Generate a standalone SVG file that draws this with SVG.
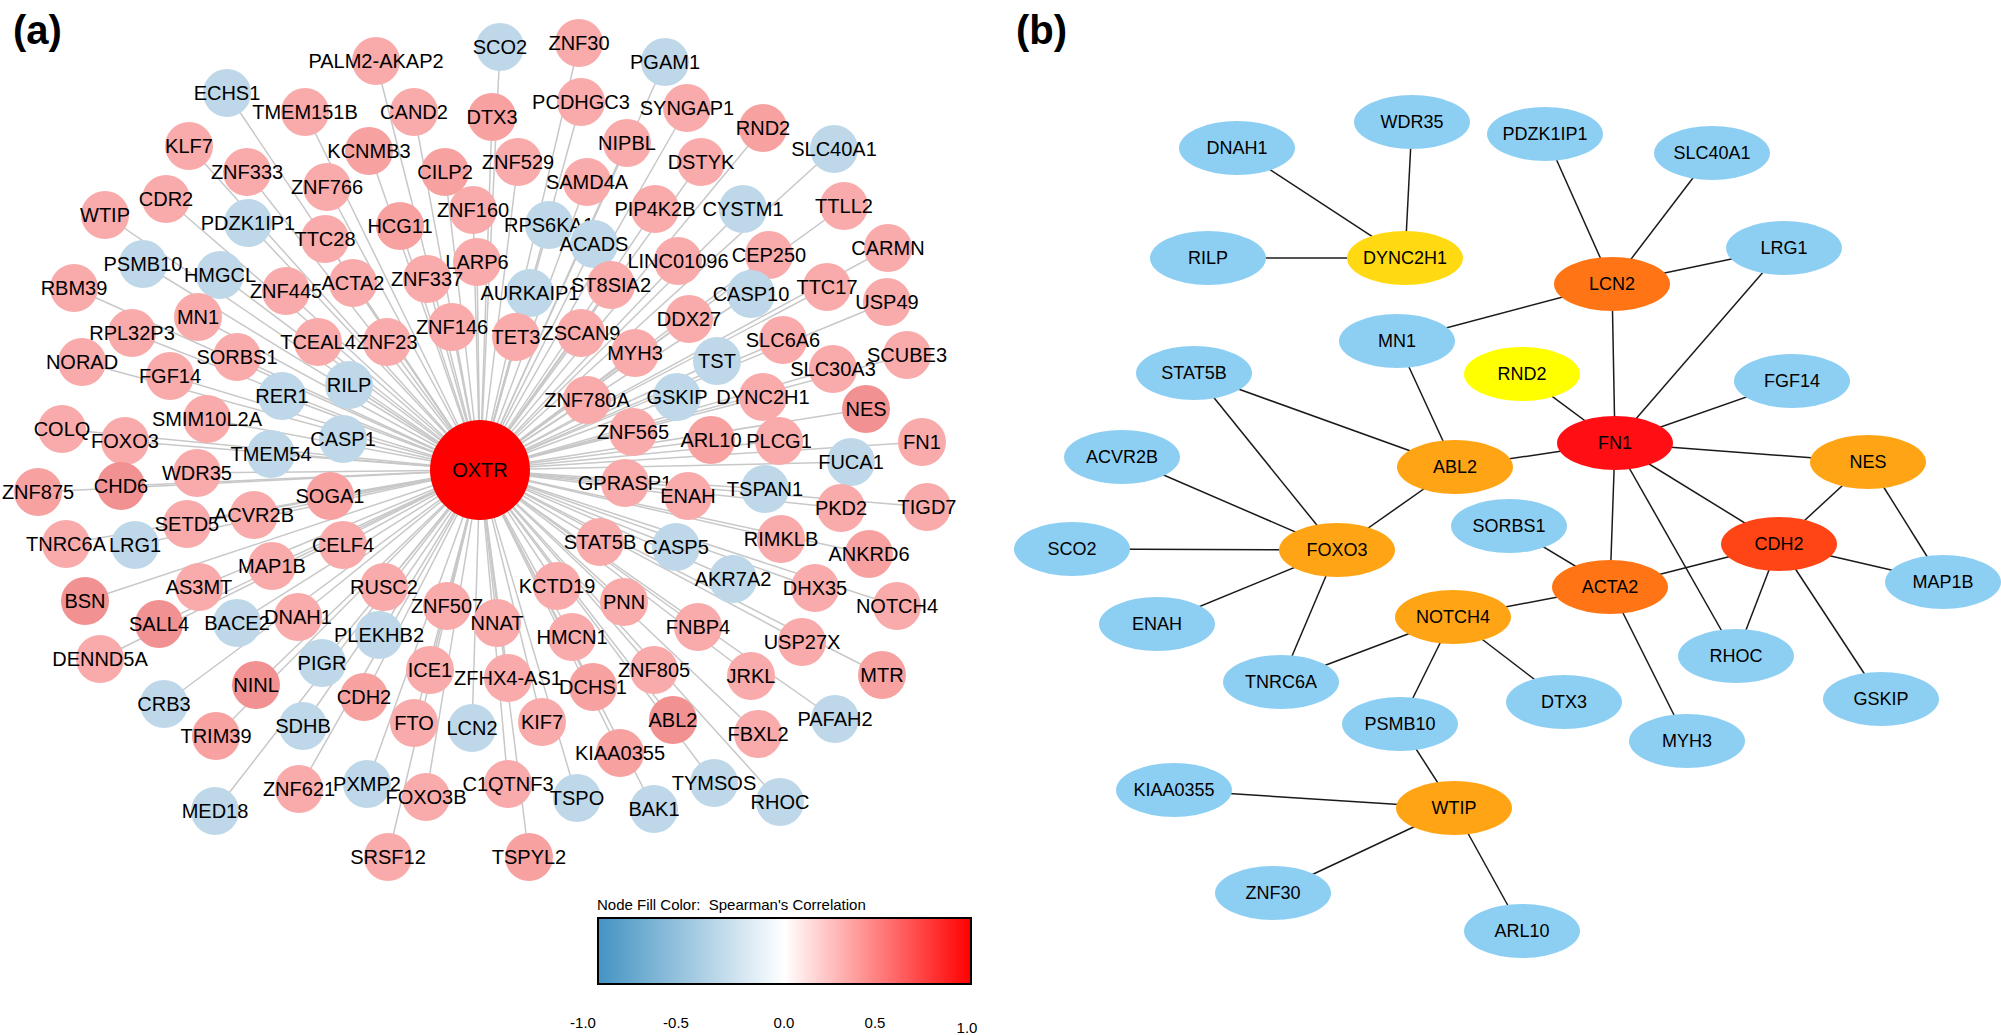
<svg xmlns="http://www.w3.org/2000/svg" width="2001" height="1035" viewBox="0 0 2001 1035">
<style>
text{font-family:"Liberation Sans",Arial,sans-serif;fill:#000}
.na text{font-size:20px;text-anchor:middle;dominant-baseline:central}
.nb text{font-size:18px;text-anchor:middle;dominant-baseline:central}
.ea line{stroke:#c8c8c8;stroke-width:1.5}
.eb line{stroke:#1a1a1a;stroke-width:1.5}
.p{fill:#f9aaaa}.pm{fill:#f7a1a1}.pd{fill:#f29191}.bl{fill:#bed8e9}
.ox{fill:#ff0000}
.sb{fill:#8dcff3}.yg{fill:#ffda12}.yy{fill:#ffff00}.o1{fill:#ff7515}.o2{fill:#ffa515}.rd{fill:#ff0e14}.o3{fill:#ff4515}
.panel{font-size:40px;font-weight:bold}
.leg{font-size:15px}
.tick{font-size:15px;text-anchor:middle}
</style>
<defs>
<linearGradient id="grad" x1="0" y1="0" x2="1" y2="0">
<stop offset="0" stop-color="#4393c3"/>
<stop offset="0.5" stop-color="#ffffff"/>
<stop offset="1" stop-color="#ff0000"/>
</linearGradient>
</defs>
<rect width="2001" height="1035" fill="#ffffff"/>
<text class="panel" x="13" y="44">(a)</text>
<text class="panel" x="1016" y="44">(b)</text>

<g id="edges-a" class="ea">
<line x1="480" y1="470" x2="376" y2="61"/><line x1="480" y1="470" x2="500" y2="47"/><line x1="480" y1="470" x2="579" y2="43"/><line x1="480" y1="470" x2="665" y2="62"/>
<line x1="480" y1="470" x2="227" y2="93"/><line x1="480" y1="470" x2="305" y2="112"/><line x1="480" y1="470" x2="414" y2="112"/><line x1="480" y1="470" x2="492" y2="117"/>
<line x1="480" y1="470" x2="581" y2="102"/><line x1="480" y1="470" x2="687" y2="108"/><line x1="480" y1="470" x2="763" y2="128"/><line x1="480" y1="470" x2="627" y2="143"/>
<line x1="480" y1="470" x2="834" y2="149"/><line x1="480" y1="470" x2="189" y2="146"/><line x1="480" y1="470" x2="369" y2="151"/><line x1="480" y1="470" x2="247" y2="172"/>
<line x1="480" y1="470" x2="445" y2="172"/><line x1="480" y1="470" x2="518" y2="162"/><line x1="480" y1="470" x2="701" y2="162"/><line x1="480" y1="470" x2="327" y2="187"/>
<line x1="480" y1="470" x2="587" y2="182"/><line x1="480" y1="470" x2="166" y2="199"/><line x1="480" y1="470" x2="105" y2="215"/><line x1="480" y1="470" x2="248" y2="223"/>
<line x1="480" y1="470" x2="400" y2="226"/><line x1="480" y1="470" x2="473" y2="210"/><line x1="480" y1="470" x2="549" y2="225"/><line x1="480" y1="470" x2="655" y2="209"/>
<line x1="480" y1="470" x2="743" y2="209"/><line x1="480" y1="470" x2="844" y2="206"/><line x1="480" y1="470" x2="325" y2="239"/><line x1="480" y1="470" x2="594" y2="244"/>
<line x1="480" y1="470" x2="678" y2="261"/><line x1="480" y1="470" x2="769" y2="255"/><line x1="480" y1="470" x2="888" y2="248"/><line x1="480" y1="470" x2="143" y2="264"/>
<line x1="480" y1="470" x2="220" y2="275"/><line x1="480" y1="470" x2="477" y2="262"/><line x1="480" y1="470" x2="74" y2="288"/><line x1="480" y1="470" x2="286" y2="291"/>
<line x1="480" y1="470" x2="353" y2="283"/><line x1="480" y1="470" x2="427" y2="279"/><line x1="480" y1="470" x2="530" y2="293"/><line x1="480" y1="470" x2="611" y2="285"/>
<line x1="480" y1="470" x2="827" y2="287"/><line x1="480" y1="470" x2="751" y2="294"/><line x1="480" y1="470" x2="887" y2="302"/><line x1="480" y1="470" x2="198" y2="317"/>
<line x1="480" y1="470" x2="452" y2="327"/><line x1="480" y1="470" x2="689" y2="319"/><line x1="480" y1="470" x2="132" y2="333"/><line x1="480" y1="470" x2="318" y2="342"/>
<line x1="480" y1="470" x2="387" y2="342"/><line x1="480" y1="470" x2="516" y2="337"/><line x1="480" y1="470" x2="581" y2="333"/><line x1="480" y1="470" x2="635" y2="353"/>
<line x1="480" y1="470" x2="783" y2="340"/><line x1="480" y1="470" x2="717" y2="361"/><line x1="480" y1="470" x2="907" y2="355"/><line x1="480" y1="470" x2="833" y2="369"/>
<line x1="480" y1="470" x2="82" y2="362"/><line x1="480" y1="470" x2="237" y2="357"/><line x1="480" y1="470" x2="170" y2="376"/><line x1="480" y1="470" x2="282" y2="396"/>
<line x1="480" y1="470" x2="349" y2="385"/><line x1="480" y1="470" x2="677" y2="397"/><line x1="480" y1="470" x2="763" y2="397"/><line x1="480" y1="470" x2="587" y2="400"/>
<line x1="480" y1="470" x2="866" y2="409"/><line x1="480" y1="470" x2="207" y2="419"/><line x1="480" y1="470" x2="62" y2="429"/><line x1="480" y1="470" x2="125" y2="441"/>
<line x1="480" y1="470" x2="343" y2="439"/><line x1="480" y1="470" x2="633" y2="432"/><line x1="480" y1="470" x2="711" y2="440"/><line x1="480" y1="470" x2="779" y2="441"/>
<line x1="480" y1="470" x2="922" y2="442"/><line x1="480" y1="470" x2="271" y2="454"/><line x1="480" y1="470" x2="851" y2="462"/><line x1="480" y1="470" x2="197" y2="473"/>
<line x1="480" y1="470" x2="38" y2="492"/><line x1="480" y1="470" x2="121" y2="486"/><line x1="480" y1="470" x2="330" y2="496"/><line x1="480" y1="470" x2="625" y2="483"/>
<line x1="480" y1="470" x2="688" y2="496"/><line x1="480" y1="470" x2="765" y2="489"/><line x1="480" y1="470" x2="841" y2="508"/><line x1="480" y1="470" x2="927" y2="507"/>
<line x1="480" y1="470" x2="187" y2="524"/><line x1="480" y1="470" x2="254" y2="515"/><line x1="480" y1="470" x2="66" y2="544"/><line x1="480" y1="470" x2="135" y2="545"/>
<line x1="480" y1="470" x2="343" y2="545"/><line x1="480" y1="470" x2="600" y2="542"/><line x1="480" y1="470" x2="676" y2="547"/><line x1="480" y1="470" x2="781" y2="539"/>
<line x1="480" y1="470" x2="869" y2="554"/><line x1="480" y1="470" x2="272" y2="566"/><line x1="480" y1="470" x2="199" y2="587"/><line x1="480" y1="470" x2="384" y2="587"/>
<line x1="480" y1="470" x2="733" y2="579"/><line x1="480" y1="470" x2="557" y2="586"/><line x1="480" y1="470" x2="815" y2="588"/><line x1="480" y1="470" x2="85" y2="601"/>
<line x1="480" y1="470" x2="447" y2="606"/><line x1="480" y1="470" x2="624" y2="602"/><line x1="480" y1="470" x2="897" y2="606"/><line x1="480" y1="470" x2="298" y2="617"/>
<line x1="480" y1="470" x2="237" y2="623"/><line x1="480" y1="470" x2="159" y2="624"/><line x1="480" y1="470" x2="497" y2="623"/><line x1="480" y1="470" x2="698" y2="627"/>
<line x1="480" y1="470" x2="379" y2="635"/><line x1="480" y1="470" x2="572" y2="637"/><line x1="480" y1="470" x2="802" y2="642"/><line x1="480" y1="470" x2="100" y2="659"/>
<line x1="480" y1="470" x2="322" y2="663"/><line x1="480" y1="470" x2="430" y2="670"/><line x1="480" y1="470" x2="508" y2="678"/><line x1="480" y1="470" x2="654" y2="670"/>
<line x1="480" y1="470" x2="751" y2="676"/><line x1="480" y1="470" x2="882" y2="675"/><line x1="480" y1="470" x2="593" y2="687"/><line x1="480" y1="470" x2="256" y2="685"/>
<line x1="480" y1="470" x2="364" y2="697"/><line x1="480" y1="470" x2="164" y2="704"/><line x1="480" y1="470" x2="542" y2="722"/><line x1="480" y1="470" x2="673" y2="720"/>
<line x1="480" y1="470" x2="835" y2="719"/><line x1="480" y1="470" x2="414" y2="723"/><line x1="480" y1="470" x2="472" y2="728"/><line x1="480" y1="470" x2="303" y2="726"/>
<line x1="480" y1="470" x2="216" y2="736"/><line x1="480" y1="470" x2="758" y2="734"/><line x1="480" y1="470" x2="620" y2="753"/><line x1="480" y1="470" x2="508" y2="784"/>
<line x1="480" y1="470" x2="714" y2="783"/><line x1="480" y1="470" x2="367" y2="784"/><line x1="480" y1="470" x2="299" y2="789"/><line x1="480" y1="470" x2="426" y2="797"/>
<line x1="480" y1="470" x2="577" y2="798"/><line x1="480" y1="470" x2="780" y2="802"/><line x1="480" y1="470" x2="654" y2="809"/><line x1="480" y1="470" x2="215" y2="811"/>
<line x1="480" y1="470" x2="388" y2="857"/><line x1="480" y1="470" x2="529" y2="857"/>
</g>

<g id="nodes-a" class="na">
<g id="a-PALM2-AKAP2"><circle class="p" cx="376" cy="61" r="24"/><text x="376" y="61">PALM2-AKAP2</text></g>
<g id="a-SCO2"><circle class="bl" cx="500" cy="47" r="24"/><text x="500" y="47">SCO2</text></g>
<g id="a-ZNF30"><circle class="p" cx="579" cy="43" r="24"/><text x="579" y="43">ZNF30</text></g>
<g id="a-PGAM1"><circle class="bl" cx="665" cy="62" r="24"/><text x="665" y="62">PGAM1</text></g>
<g id="a-ECHS1"><circle class="bl" cx="227" cy="93" r="24"/><text x="227" y="93">ECHS1</text></g>
<g id="a-TMEM151B"><circle class="p" cx="305" cy="112" r="24"/><text x="305" y="112">TMEM151B</text></g>
<g id="a-CAND2"><circle class="p" cx="414" cy="112" r="24"/><text x="414" y="112">CAND2</text></g>
<g id="a-DTX3"><circle class="pm" cx="492" cy="117" r="24"/><text x="492" y="117">DTX3</text></g>
<g id="a-PCDHGC3"><circle class="p" cx="581" cy="102" r="24"/><text x="581" y="102">PCDHGC3</text></g>
<g id="a-SYNGAP1"><circle class="p" cx="687" cy="108" r="24"/><text x="687" y="108">SYNGAP1</text></g>
<g id="a-RND2"><circle class="pm" cx="763" cy="128" r="24"/><text x="763" y="128">RND2</text></g>
<g id="a-NIPBL"><circle class="p" cx="627" cy="143" r="24"/><text x="627" y="143">NIPBL</text></g>
<g id="a-SLC40A1"><circle class="bl" cx="834" cy="149" r="24"/><text x="834" y="149">SLC40A1</text></g>
<g id="a-KLF7"><circle class="p" cx="189" cy="146" r="24"/><text x="189" y="146">KLF7</text></g>
<g id="a-KCNMB3"><circle class="pm" cx="369" cy="151" r="24"/><text x="369" y="151">KCNMB3</text></g>
<g id="a-ZNF333"><circle class="p" cx="247" cy="172" r="24"/><text x="247" y="172">ZNF333</text></g>
<g id="a-CILP2"><circle class="pm" cx="445" cy="172" r="24"/><text x="445" y="172">CILP2</text></g>
<g id="a-ZNF529"><circle class="p" cx="518" cy="162" r="24"/><text x="518" y="162">ZNF529</text></g>
<g id="a-DSTYK"><circle class="p" cx="701" cy="162" r="24"/><text x="701" y="162">DSTYK</text></g>
<g id="a-ZNF766"><circle class="p" cx="327" cy="187" r="24"/><text x="327" y="187">ZNF766</text></g>
<g id="a-SAMD4A"><circle class="p" cx="587" cy="182" r="24"/><text x="587" y="182">SAMD4A</text></g>
<g id="a-CDR2"><circle class="p" cx="166" cy="199" r="24"/><text x="166" y="199">CDR2</text></g>
<g id="a-WTIP"><circle class="p" cx="105" cy="215" r="24"/><text x="105" y="215">WTIP</text></g>
<g id="a-PDZK1IP1"><circle class="bl" cx="248" cy="223" r="24"/><text x="248" y="223">PDZK1IP1</text></g>
<g id="a-HCG11"><circle class="pm" cx="400" cy="226" r="24"/><text x="400" y="226">HCG11</text></g>
<g id="a-RPS6KA1"><circle class="bl" cx="549" cy="225" r="24"/><text x="549" y="225">RPS6KA1</text></g>
<g id="a-ZNF160"><circle class="p" cx="473" cy="210" r="24"/><text x="473" y="210">ZNF160</text></g>
<g id="a-PIP4K2B"><circle class="p" cx="655" cy="209" r="24"/><text x="655" y="209">PIP4K2B</text></g>
<g id="a-CYSTM1"><circle class="bl" cx="743" cy="209" r="24"/><text x="743" y="209">CYSTM1</text></g>
<g id="a-TTLL2"><circle class="p" cx="844" cy="206" r="24"/><text x="844" y="206">TTLL2</text></g>
<g id="a-TTC28"><circle class="p" cx="325" cy="239" r="24"/><text x="325" y="239">TTC28</text></g>
<g id="a-ACADS"><circle class="bl" cx="594" cy="244" r="24"/><text x="594" y="244">ACADS</text></g>
<g id="a-LINC01096"><circle class="p" cx="678" cy="261" r="24"/><text x="678" y="261">LINC01096</text></g>
<g id="a-CEP250"><circle class="p" cx="769" cy="255" r="24"/><text x="769" y="255">CEP250</text></g>
<g id="a-CARMN"><circle class="p" cx="888" cy="248" r="24"/><text x="888" y="248">CARMN</text></g>
<g id="a-PSMB10"><circle class="bl" cx="143" cy="264" r="24"/><text x="143" y="264">PSMB10</text></g>
<g id="a-HMGCL"><circle class="bl" cx="220" cy="275" r="24"/><text x="220" y="275">HMGCL</text></g>
<g id="a-LARP6"><circle class="p" cx="477" cy="262" r="24"/><text x="477" y="262">LARP6</text></g>
<g id="a-RBM39"><circle class="p" cx="74" cy="288" r="24"/><text x="74" y="288">RBM39</text></g>
<g id="a-ZNF445"><circle class="p" cx="286" cy="291" r="24"/><text x="286" y="291">ZNF445</text></g>
<g id="a-ACTA2"><circle class="p" cx="353" cy="283" r="24"/><text x="353" y="283">ACTA2</text></g>
<g id="a-ZNF337"><circle class="p" cx="427" cy="279" r="24"/><text x="427" y="279">ZNF337</text></g>
<g id="a-AURKAIP1"><circle class="bl" cx="530" cy="293" r="24"/><text x="530" y="293">AURKAIP1</text></g>
<g id="a-ST8SIA2"><circle class="p" cx="611" cy="285" r="24"/><text x="611" y="285">ST8SIA2</text></g>
<g id="a-TTC17"><circle class="p" cx="827" cy="287" r="24"/><text x="827" y="287">TTC17</text></g>
<g id="a-CASP10"><circle class="bl" cx="751" cy="294" r="24"/><text x="751" y="294">CASP10</text></g>
<g id="a-USP49"><circle class="p" cx="887" cy="302" r="24"/><text x="887" y="302">USP49</text></g>
<g id="a-MN1"><circle class="p" cx="198" cy="317" r="24"/><text x="198" y="317">MN1</text></g>
<g id="a-ZNF146"><circle class="p" cx="452" cy="327" r="24"/><text x="452" y="327">ZNF146</text></g>
<g id="a-DDX27"><circle class="p" cx="689" cy="319" r="24"/><text x="689" y="319">DDX27</text></g>
<g id="a-RPL32P3"><circle class="p" cx="132" cy="333" r="24"/><text x="132" y="333">RPL32P3</text></g>
<g id="a-TCEAL4"><circle class="p" cx="318" cy="342" r="24"/><text x="318" y="342">TCEAL4</text></g>
<g id="a-ZNF23"><circle class="p" cx="387" cy="342" r="24"/><text x="387" y="342">ZNF23</text></g>
<g id="a-TET3"><circle class="p" cx="516" cy="337" r="24"/><text x="516" y="337">TET3</text></g>
<g id="a-ZSCAN9"><circle class="p" cx="581" cy="333" r="24"/><text x="581" y="333">ZSCAN9</text></g>
<g id="a-MYH3"><circle class="p" cx="635" cy="353" r="24"/><text x="635" y="353">MYH3</text></g>
<g id="a-SLC6A6"><circle class="p" cx="783" cy="340" r="24"/><text x="783" y="340">SLC6A6</text></g>
<g id="a-TST"><circle class="bl" cx="717" cy="361" r="24"/><text x="717" y="361">TST</text></g>
<g id="a-SCUBE3"><circle class="p" cx="907" cy="355" r="24"/><text x="907" y="355">SCUBE3</text></g>
<g id="a-SLC30A3"><circle class="p" cx="833" cy="369" r="24"/><text x="833" y="369">SLC30A3</text></g>
<g id="a-NORAD"><circle class="p" cx="82" cy="362" r="24"/><text x="82" y="362">NORAD</text></g>
<g id="a-SORBS1"><circle class="p" cx="237" cy="357" r="24"/><text x="237" y="357">SORBS1</text></g>
<g id="a-FGF14"><circle class="p" cx="170" cy="376" r="24"/><text x="170" y="376">FGF14</text></g>
<g id="a-RER1"><circle class="bl" cx="282" cy="396" r="24"/><text x="282" y="396">RER1</text></g>
<g id="a-RILP"><circle class="bl" cx="349" cy="385" r="24"/><text x="349" y="385">RILP</text></g>
<g id="a-GSKIP"><circle class="bl" cx="677" cy="397" r="24"/><text x="677" y="397">GSKIP</text></g>
<g id="a-DYNC2H1"><circle class="p" cx="763" cy="397" r="24"/><text x="763" y="397">DYNC2H1</text></g>
<g id="a-ZNF780A"><circle class="p" cx="587" cy="400" r="24"/><text x="587" y="400">ZNF780A</text></g>
<g id="a-NES"><circle class="pd" cx="866" cy="409" r="24"/><text x="866" y="409">NES</text></g>
<g id="a-SMIM10L2A"><circle class="p" cx="207" cy="419" r="24"/><text x="207" y="419">SMIM10L2A</text></g>
<g id="a-COLQ"><circle class="p" cx="62" cy="429" r="24"/><text x="62" y="429">COLQ</text></g>
<g id="a-FOXO3"><circle class="p" cx="125" cy="441" r="24"/><text x="125" y="441">FOXO3</text></g>
<g id="a-CASP1"><circle class="bl" cx="343" cy="439" r="24"/><text x="343" y="439">CASP1</text></g>
<g id="a-ZNF565"><circle class="p" cx="633" cy="432" r="24"/><text x="633" y="432">ZNF565</text></g>
<g id="a-ARL10"><circle class="pm" cx="711" cy="440" r="24"/><text x="711" y="440">ARL10</text></g>
<g id="a-PLCG1"><circle class="p" cx="779" cy="441" r="24"/><text x="779" y="441">PLCG1</text></g>
<g id="a-FN1"><circle class="p" cx="922" cy="442" r="24"/><text x="922" y="442">FN1</text></g>
<g id="a-TMEM54"><circle class="bl" cx="271" cy="454" r="24"/><text x="271" y="454">TMEM54</text></g>
<g id="a-FUCA1"><circle class="bl" cx="851" cy="462" r="24"/><text x="851" y="462">FUCA1</text></g>
<g id="a-WDR35"><circle class="p" cx="197" cy="473" r="24"/><text x="197" y="473">WDR35</text></g>
<g id="a-ZNF875"><circle class="pm" cx="38" cy="492" r="24"/><text x="38" y="492">ZNF875</text></g>
<g id="a-CHD6"><circle class="pd" cx="121" cy="486" r="24"/><text x="121" y="486">CHD6</text></g>
<g id="a-SOGA1"><circle class="pm" cx="330" cy="496" r="24"/><text x="330" y="496">SOGA1</text></g>
<g id="a-GPRASP1"><circle class="p" cx="625" cy="483" r="24"/><text x="625" y="483">GPRASP1</text></g>
<g id="a-ENAH"><circle class="p" cx="688" cy="496" r="24"/><text x="688" y="496">ENAH</text></g>
<g id="a-TSPAN1"><circle class="bl" cx="765" cy="489" r="24"/><text x="765" y="489">TSPAN1</text></g>
<g id="a-PKD2"><circle class="p" cx="841" cy="508" r="24"/><text x="841" y="508">PKD2</text></g>
<g id="a-TIGD7"><circle class="p" cx="927" cy="507" r="24"/><text x="927" y="507">TIGD7</text></g>
<g id="a-SETD5"><circle class="p" cx="187" cy="524" r="24"/><text x="187" y="524">SETD5</text></g>
<g id="a-ACVR2B"><circle class="p" cx="254" cy="515" r="24"/><text x="254" y="515">ACVR2B</text></g>
<g id="a-TNRC6A"><circle class="p" cx="66" cy="544" r="24"/><text x="66" y="544">TNRC6A</text></g>
<g id="a-LRG1"><circle class="bl" cx="135" cy="545" r="24"/><text x="135" y="545">LRG1</text></g>
<g id="a-CELF4"><circle class="p" cx="343" cy="545" r="24"/><text x="343" y="545">CELF4</text></g>
<g id="a-STAT5B"><circle class="p" cx="600" cy="542" r="24"/><text x="600" y="542">STAT5B</text></g>
<g id="a-CASP5"><circle class="bl" cx="676" cy="547" r="24"/><text x="676" y="547">CASP5</text></g>
<g id="a-RIMKLB"><circle class="p" cx="781" cy="539" r="24"/><text x="781" y="539">RIMKLB</text></g>
<g id="a-ANKRD6"><circle class="pm" cx="869" cy="554" r="24"/><text x="869" y="554">ANKRD6</text></g>
<g id="a-MAP1B"><circle class="p" cx="272" cy="566" r="24"/><text x="272" y="566">MAP1B</text></g>
<g id="a-AS3MT"><circle class="p" cx="199" cy="587" r="24"/><text x="199" y="587">AS3MT</text></g>
<g id="a-RUSC2"><circle class="p" cx="384" cy="587" r="24"/><text x="384" y="587">RUSC2</text></g>
<g id="a-AKR7A2"><circle class="bl" cx="733" cy="579" r="24"/><text x="733" y="579">AKR7A2</text></g>
<g id="a-KCTD19"><circle class="p" cx="557" cy="586" r="24"/><text x="557" y="586">KCTD19</text></g>
<g id="a-DHX35"><circle class="p" cx="815" cy="588" r="24"/><text x="815" y="588">DHX35</text></g>
<g id="a-BSN"><circle class="pd" cx="85" cy="601" r="24"/><text x="85" y="601">BSN</text></g>
<g id="a-ZNF507"><circle class="p" cx="447" cy="606" r="24"/><text x="447" y="606">ZNF507</text></g>
<g id="a-PNN"><circle class="p" cx="624" cy="602" r="24"/><text x="624" y="602">PNN</text></g>
<g id="a-NOTCH4"><circle class="p" cx="897" cy="606" r="24"/><text x="897" y="606">NOTCH4</text></g>
<g id="a-DNAH1"><circle class="p" cx="298" cy="617" r="24"/><text x="298" y="617">DNAH1</text></g>
<g id="a-BACE2"><circle class="bl" cx="237" cy="623" r="24"/><text x="237" y="623">BACE2</text></g>
<g id="a-SALL4"><circle class="pd" cx="159" cy="624" r="24"/><text x="159" y="624">SALL4</text></g>
<g id="a-NNAT"><circle class="p" cx="497" cy="623" r="24"/><text x="497" y="623">NNAT</text></g>
<g id="a-FNBP4"><circle class="p" cx="698" cy="627" r="24"/><text x="698" y="627">FNBP4</text></g>
<g id="a-PLEKHB2"><circle class="bl" cx="379" cy="635" r="24"/><text x="379" y="635">PLEKHB2</text></g>
<g id="a-HMCN1"><circle class="p" cx="572" cy="637" r="24"/><text x="572" y="637">HMCN1</text></g>
<g id="a-USP27X"><circle class="p" cx="802" cy="642" r="24"/><text x="802" y="642">USP27X</text></g>
<g id="a-DENND5A"><circle class="p" cx="100" cy="659" r="24"/><text x="100" y="659">DENND5A</text></g>
<g id="a-PIGR"><circle class="bl" cx="322" cy="663" r="24"/><text x="322" y="663">PIGR</text></g>
<g id="a-ICE1"><circle class="p" cx="430" cy="670" r="24"/><text x="430" y="670">ICE1</text></g>
<g id="a-ZFHX4-AS1"><circle class="p" cx="508" cy="678" r="24"/><text x="508" y="678">ZFHX4-AS1</text></g>
<g id="a-ZNF805"><circle class="p" cx="654" cy="670" r="24"/><text x="654" y="670">ZNF805</text></g>
<g id="a-JRKL"><circle class="p" cx="751" cy="676" r="24"/><text x="751" y="676">JRKL</text></g>
<g id="a-MTR"><circle class="pm" cx="882" cy="675" r="24"/><text x="882" y="675">MTR</text></g>
<g id="a-DCHS1"><circle class="pm" cx="593" cy="687" r="24"/><text x="593" y="687">DCHS1</text></g>
<g id="a-NINL"><circle class="pd" cx="256" cy="685" r="24"/><text x="256" y="685">NINL</text></g>
<g id="a-CDH2"><circle class="pm" cx="364" cy="697" r="24"/><text x="364" y="697">CDH2</text></g>
<g id="a-CRB3"><circle class="bl" cx="164" cy="704" r="24"/><text x="164" y="704">CRB3</text></g>
<g id="a-KIF7"><circle class="p" cx="542" cy="722" r="24"/><text x="542" y="722">KIF7</text></g>
<g id="a-ABL2"><circle class="pd" cx="673" cy="720" r="24"/><text x="673" y="720">ABL2</text></g>
<g id="a-PAFAH2"><circle class="bl" cx="835" cy="719" r="24"/><text x="835" y="719">PAFAH2</text></g>
<g id="a-FTO"><circle class="p" cx="414" cy="723" r="24"/><text x="414" y="723">FTO</text></g>
<g id="a-LCN2"><circle class="bl" cx="472" cy="728" r="24"/><text x="472" y="728">LCN2</text></g>
<g id="a-SDHB"><circle class="bl" cx="303" cy="726" r="24"/><text x="303" y="726">SDHB</text></g>
<g id="a-TRIM39"><circle class="pm" cx="216" cy="736" r="24"/><text x="216" y="736">TRIM39</text></g>
<g id="a-FBXL2"><circle class="p" cx="758" cy="734" r="24"/><text x="758" y="734">FBXL2</text></g>
<g id="a-KIAA0355"><circle class="pm" cx="620" cy="753" r="24"/><text x="620" y="753">KIAA0355</text></g>
<g id="a-C1QTNF3"><circle class="p" cx="508" cy="784" r="24"/><text x="508" y="784">C1QTNF3</text></g>
<g id="a-TYMSOS"><circle class="bl" cx="714" cy="783" r="24"/><text x="714" y="783">TYMSOS</text></g>
<g id="a-PXMP2"><circle class="bl" cx="367" cy="784" r="24"/><text x="367" y="784">PXMP2</text></g>
<g id="a-ZNF621"><circle class="p" cx="299" cy="789" r="24"/><text x="299" y="789">ZNF621</text></g>
<g id="a-FOXO3B"><circle class="p" cx="426" cy="797" r="24"/><text x="426" y="797">FOXO3B</text></g>
<g id="a-TSPO"><circle class="bl" cx="577" cy="798" r="24"/><text x="577" y="798">TSPO</text></g>
<g id="a-RHOC"><circle class="bl" cx="780" cy="802" r="24"/><text x="780" y="802">RHOC</text></g>
<g id="a-BAK1"><circle class="bl" cx="654" cy="809" r="24"/><text x="654" y="809">BAK1</text></g>
<g id="a-MED18"><circle class="bl" cx="215" cy="811" r="24"/><text x="215" y="811">MED18</text></g>
<g id="a-SRSF12"><circle class="p" cx="388" cy="857" r="24"/><text x="388" y="857">SRSF12</text></g>
<g id="a-TSPYL2"><circle class="pm" cx="529" cy="857" r="24"/><text x="529" y="857">TSPYL2</text></g>
<g id="a-OXTR"><circle class="ox" cx="480" cy="470" r="50"/><text x="480" y="470">OXTR</text></g>
</g>

<g id="legend">
<text class="leg" x="597" y="910" style="white-space:pre">Node Fill Color:  Spearman's Correlation</text>
<rect x="598" y="918" width="373" height="66" fill="url(#grad)" stroke="#000" stroke-width="2"/>
<text class="tick" x="583" y="1028">-1.0</text>
<text class="tick" x="676" y="1028">-0.5</text>
<text class="tick" x="784" y="1028">0.0</text>
<text class="tick" x="875" y="1028">0.5</text>
<text class="tick" x="967" y="1033">1.0</text>
</g>

<g id="edges-b" class="eb">
<line x1="1237" y1="148" x2="1405" y2="258"/>
<line x1="1412" y1="122" x2="1405" y2="258"/>
<line x1="1208" y1="258" x2="1405" y2="258"/>
<line x1="1545" y1="134" x2="1612" y2="284"/>
<line x1="1712" y1="153" x2="1612" y2="284"/>
<line x1="1784" y1="248" x2="1612" y2="284"/>
<line x1="1612" y1="284" x2="1397" y2="341"/>
<line x1="1612" y1="284" x2="1615" y2="443"/>
<line x1="1784" y1="248" x2="1615" y2="443"/>
<line x1="1522" y1="374" x2="1615" y2="443"/>
<line x1="1792" y1="381" x2="1615" y2="443"/>
<line x1="1397" y1="341" x2="1455" y2="467"/>
<line x1="1194" y1="373" x2="1455" y2="467"/>
<line x1="1194" y1="373" x2="1337" y2="550"/>
<line x1="1455" y1="467" x2="1615" y2="443"/>
<line x1="1455" y1="467" x2="1337" y2="550"/>
<line x1="1615" y1="443" x2="1868" y2="462"/>
<line x1="1615" y1="443" x2="1610" y2="587"/>
<line x1="1615" y1="443" x2="1736" y2="656"/>
<line x1="1615" y1="443" x2="1779" y2="544"/>
<line x1="1868" y1="462" x2="1779" y2="544"/>
<line x1="1868" y1="462" x2="1943" y2="582"/>
<line x1="1122" y1="457" x2="1337" y2="550"/>
<line x1="1072" y1="549" x2="1337" y2="550"/>
<line x1="1337" y1="550" x2="1157" y2="624"/>
<line x1="1337" y1="550" x2="1281" y2="682"/>
<line x1="1509" y1="526" x2="1610" y2="587"/>
<line x1="1779" y1="544" x2="1610" y2="587"/>
<line x1="1779" y1="544" x2="1943" y2="582"/>
<line x1="1779" y1="544" x2="1736" y2="656"/>
<line x1="1779" y1="544" x2="1881" y2="699"/>
<line x1="1610" y1="587" x2="1453" y2="617"/>
<line x1="1610" y1="587" x2="1687" y2="741"/>
<line x1="1453" y1="617" x2="1281" y2="682"/>
<line x1="1453" y1="617" x2="1400" y2="724"/>
<line x1="1453" y1="617" x2="1564" y2="702"/>
<line x1="1400" y1="724" x2="1454" y2="808"/>
<line x1="1174" y1="790" x2="1454" y2="808"/>
<line x1="1454" y1="808" x2="1273" y2="893"/>
<line x1="1454" y1="808" x2="1522" y2="931"/>
</g>

<g id="nodes-b" class="nb">
<g id="b-DNAH1"><ellipse class="sb" cx="1237" cy="148" rx="58" ry="27"/><text x="1237" y="148">DNAH1</text></g>
<g id="b-WDR35"><ellipse class="sb" cx="1412" cy="122" rx="58" ry="27"/><text x="1412" y="122">WDR35</text></g>
<g id="b-PDZK1IP1"><ellipse class="sb" cx="1545" cy="134" rx="58" ry="27"/><text x="1545" y="134">PDZK1IP1</text></g>
<g id="b-SLC40A1"><ellipse class="sb" cx="1712" cy="153" rx="58" ry="27"/><text x="1712" y="153">SLC40A1</text></g>
<g id="b-RILP"><ellipse class="sb" cx="1208" cy="258" rx="58" ry="27"/><text x="1208" y="258">RILP</text></g>
<g id="b-DYNC2H1"><ellipse class="yg" cx="1405" cy="258" rx="58" ry="27"/><text x="1405" y="258">DYNC2H1</text></g>
<g id="b-LCN2"><ellipse class="o1" cx="1612" cy="284" rx="58" ry="27"/><text x="1612" y="284">LCN2</text></g>
<g id="b-LRG1"><ellipse class="sb" cx="1784" cy="248" rx="58" ry="27"/><text x="1784" y="248">LRG1</text></g>
<g id="b-MN1"><ellipse class="sb" cx="1397" cy="341" rx="58" ry="27"/><text x="1397" y="341">MN1</text></g>
<g id="b-RND2"><ellipse class="yy" cx="1522" cy="374" rx="58" ry="27"/><text x="1522" y="374">RND2</text></g>
<g id="b-STAT5B"><ellipse class="sb" cx="1194" cy="373" rx="58" ry="27"/><text x="1194" y="373">STAT5B</text></g>
<g id="b-FGF14"><ellipse class="sb" cx="1792" cy="381" rx="58" ry="27"/><text x="1792" y="381">FGF14</text></g>
<g id="b-ACVR2B"><ellipse class="sb" cx="1122" cy="457" rx="58" ry="27"/><text x="1122" y="457">ACVR2B</text></g>
<g id="b-ABL2"><ellipse class="o2" cx="1455" cy="467" rx="58" ry="27"/><text x="1455" y="467">ABL2</text></g>
<g id="b-FN1"><ellipse class="rd" cx="1615" cy="443" rx="58" ry="27"/><text x="1615" y="443">FN1</text></g>
<g id="b-NES"><ellipse class="o2" cx="1868" cy="462" rx="58" ry="27"/><text x="1868" y="462">NES</text></g>
<g id="b-SORBS1"><ellipse class="sb" cx="1509" cy="526" rx="58" ry="27"/><text x="1509" y="526">SORBS1</text></g>
<g id="b-CDH2"><ellipse class="o3" cx="1779" cy="544" rx="58" ry="27"/><text x="1779" y="544">CDH2</text></g>
<g id="b-SCO2"><ellipse class="sb" cx="1072" cy="549" rx="58" ry="27"/><text x="1072" y="549">SCO2</text></g>
<g id="b-FOXO3"><ellipse class="o2" cx="1337" cy="550" rx="58" ry="27"/><text x="1337" y="550">FOXO3</text></g>
<g id="b-MAP1B"><ellipse class="sb" cx="1943" cy="582" rx="58" ry="27"/><text x="1943" y="582">MAP1B</text></g>
<g id="b-ACTA2"><ellipse class="o1" cx="1610" cy="587" rx="58" ry="27"/><text x="1610" y="587">ACTA2</text></g>
<g id="b-ENAH"><ellipse class="sb" cx="1157" cy="624" rx="58" ry="27"/><text x="1157" y="624">ENAH</text></g>
<g id="b-NOTCH4"><ellipse class="o2" cx="1453" cy="617" rx="58" ry="27"/><text x="1453" y="617">NOTCH4</text></g>
<g id="b-RHOC"><ellipse class="sb" cx="1736" cy="656" rx="58" ry="27"/><text x="1736" y="656">RHOC</text></g>
<g id="b-TNRC6A"><ellipse class="sb" cx="1281" cy="682" rx="58" ry="27"/><text x="1281" y="682">TNRC6A</text></g>
<g id="b-DTX3"><ellipse class="sb" cx="1564" cy="702" rx="58" ry="27"/><text x="1564" y="702">DTX3</text></g>
<g id="b-GSKIP"><ellipse class="sb" cx="1881" cy="699" rx="58" ry="27"/><text x="1881" y="699">GSKIP</text></g>
<g id="b-MYH3"><ellipse class="sb" cx="1687" cy="741" rx="58" ry="27"/><text x="1687" y="741">MYH3</text></g>
<g id="b-PSMB10"><ellipse class="sb" cx="1400" cy="724" rx="58" ry="27"/><text x="1400" y="724">PSMB10</text></g>
<g id="b-KIAA0355"><ellipse class="sb" cx="1174" cy="790" rx="58" ry="27"/><text x="1174" y="790">KIAA0355</text></g>
<g id="b-WTIP"><ellipse class="o2" cx="1454" cy="808" rx="58" ry="27"/><text x="1454" y="808">WTIP</text></g>
<g id="b-ZNF30"><ellipse class="sb" cx="1273" cy="893" rx="58" ry="27"/><text x="1273" y="893">ZNF30</text></g>
<g id="b-ARL10"><ellipse class="sb" cx="1522" cy="931" rx="58" ry="27"/><text x="1522" y="931">ARL10</text></g>
</g>
</svg>
